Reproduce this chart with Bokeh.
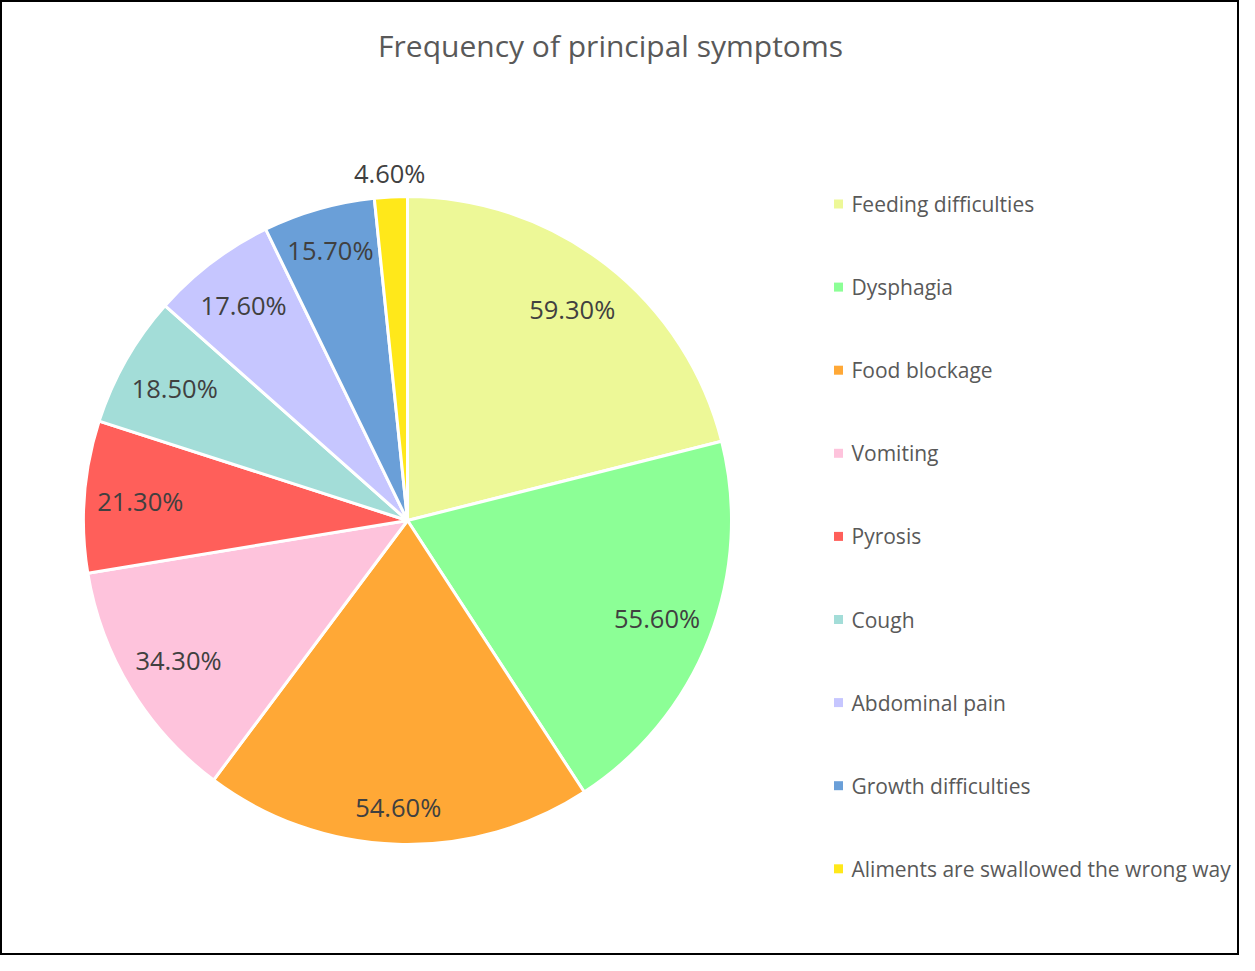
import math
from bokeh.plotting import figure
from bokeh.models import Range1d, ColumnDataSource
from bokeh.core.properties import value
from bokeh.embed import file_html
from bokeh.resources import INLINE

categories = ["Feeding difficulties", "Dysphagia", "Food blockage", "Vomiting", "Pyrosis",
              "Cough", "Abdominal pain", "Growth difficulties", "Aliments are swallowed the wrong way"]
values = [59.3, 55.6, 54.6, 34.3, 21.3, 18.5, 17.6, 15.7, 4.6]
labels = ["59.30%", "55.60%", "54.60%", "34.30%", "21.30%", "18.50%", "17.60%", "15.70%", "4.60%"]
colors = ["#EDF897", "#8CFF96", "#FFA836", "#FEC3DC", "#FF5F5A", "#A3DDD8", "#C6C6FF", "#6A9FD8", "#FFE81A"]

# layout: radial distance of each data label from the pie centre (px)
label_radius = [268, 268, 287, 268, 268, 268, 271, 281, 348]

W, H = 1239, 955
p = figure(width=W, height=H, x_range=Range1d(0, W), y_range=Range1d(-H, 0),
           output_backend="svg", toolbar_location=None, min_border=0)
p.axis.visible = False
p.grid.visible = False
p.outline_line_color = "#000000"
p.outline_line_width = 3
p.background_fill_color = "white"

cx, cy, R = 407, -520, 324
total = sum(values)
starts, ends, lx, ly = [], [], [], []
cum = 0.0
for i, v in enumerate(values):
    a0 = math.pi / 2 - 2 * math.pi * cum / total
    a1 = math.pi / 2 - 2 * math.pi * (cum + v) / total
    starts.append(a1)
    ends.append(a0)
    mid = (a0 + a1) / 2
    r = label_radius[i]
    lx.append(cx + r * math.cos(mid))
    ly.append(cy + r * math.sin(mid))
    cum += v

src = ColumnDataSource(dict(start=starts, end=ends, color=colors, lx=lx, ly=ly, label=labels))
p.wedge(x=cx, y=cy, radius=R, start_angle="start", end_angle="end", fill_color="color",
        line_color="white", line_width=3, source=src)
p.text(x="lx", y="ly", text="label", source=src, text_align="center", text_baseline="middle",
       text_font=value("Open Sans"), text_font_size="25.5px", text_color="#404040")

# title
p.text(x=[610], y=[-44.5], text=["Frequency of principal symptoms"], text_align="center",
       text_baseline="middle", text_font=value("Open Sans"), text_font_size="30px", text_color="#595959")

# legend
leg_y = [-(203.5 + i * 83.1) for i in range(len(categories))]
p.rect(x=[838] * len(categories), y=leg_y, width=9, height=9, fill_color=colors, line_color=None)
p.text(x=[851] * len(categories), y=leg_y, text=categories, text_align="left", text_baseline="middle",
       text_font=value("Open Sans"), text_font_size="21px", text_color="#595959")

open("out.html", "w").write(file_html(p, INLINE))
